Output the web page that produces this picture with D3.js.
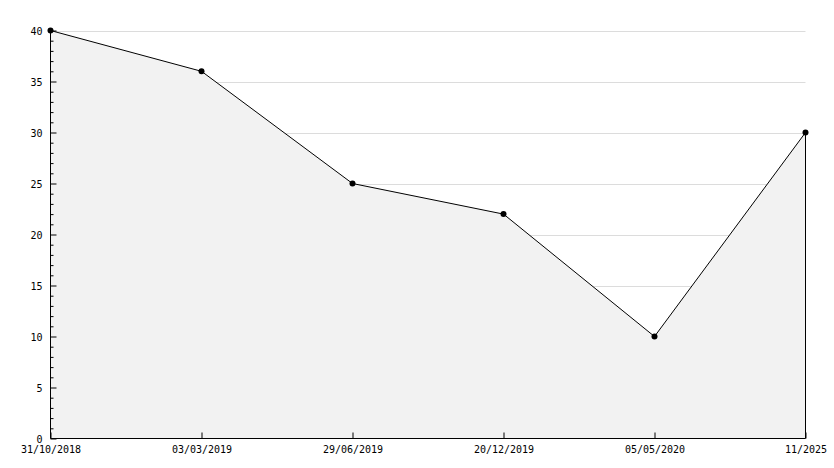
<!DOCTYPE html>
<html>
<head>
<meta charset="utf-8">
<script src="https://cdn.jsdelivr.net/npm/d3@7"></script>
<style>
  body { margin: 0; background: #fff; }
  text { font-family: "DejaVu Sans Mono", monospace; font-size: 10px; fill: #000; }
</style>
</head>
<body>
<svg id="chart" width="834" height="468"></svg>
<script>
'use strict';

const dates = ['31/10/2018', '03/03/2019', '29/06/2019', '20/12/2019', '05/05/2020', '11/2025'];
const values = [40, 36, 25, 22, 10, 30];
const yTicks = [0, 5, 10, 15, 20, 25, 30, 35, 40];

const vis = d3.select('#chart');
const mLeft = 50.5, mRight = 805.5, mTop = 30.5, mBottom = 438.5;

const x = d3.scalePoint().domain(dates).range([mLeft, mRight]);
const y = d3.scaleLinear().domain([0, 40]).range([mBottom, mTop]);

const data = dates.map((d, i) => ({date: d, value: values[i]}));

// grid
vis.append('g')
    .selectAll('line')
    .data(yTicks.slice(1))
    .enter().append('line')
    .attr('x1', mLeft).attr('x2', mRight)
    .attr('y1', d => Math.round(y(d)) + 0.5)
    .attr('y2', d => Math.round(y(d)) + 0.5)
    .attr('stroke', '#dcdcdc');

// area
const area = d3.area()
    .x(d => x(d.date))
    .y0(mBottom)
    .y1(d => y(d.value));
vis.append('path')
    .datum(data)
    .attr('d', area)
    .attr('fill', '#f2f2f2');

// right edge of area
vis.append('line')
    .attr('x1', mRight).attr('x2', mRight)
    .attr('y1', y(values[values.length - 1])).attr('y2', mBottom)
    .attr('stroke', '#000');

// line
vis.append('path')
    .datum(data)
    .attr('d', d3.line().x(d => x(d.date)).y(d => y(d.value)))
    .attr('fill', 'none')
    .attr('stroke', '#000')
    .attr('stroke-width', 1);

// y axis
const yAxis = vis.append('g')
    .attr('transform', `translate(${mLeft},0)`)
    .call(d3.axisRight(y).tickValues(d3.range(0, 41, 1)).tickSize(3).tickFormat(''));
yAxis.select('.domain').remove();
yAxis.selectAll('.tick').filter(d => d % 5 === 0).select('line').attr('x2', 6);

yAxis.selectAll('.tick')
    .filter(d => d % 5 === 0)
    .append('text')
    .attr('x', -8)
    .attr('dy', '0.35em')
    .attr('text-anchor', 'end')
    .text(d => d);

// x axis
const xAxis = vis.append('g')
    .attr('transform', `translate(0,${mBottom})`)
    .call(d3.axisTop(x).tickSize(6).tickFormat(''));
xAxis.select('.domain').remove();
xAxis.selectAll('.tick')
    .append('text')
    .attr('y', 14)
    .attr('text-anchor', 'middle')
    .text(d => d);

vis.append('line')
    .attr('x1', mLeft).attr('x2', mLeft)
    .attr('y1', mTop).attr('y2', mBottom)
    .attr('stroke', '#000');
vis.append('line')
    .attr('x1', mLeft).attr('x2', mRight)
    .attr('y1', mBottom).attr('y2', mBottom)
    .attr('stroke', '#000');

// markers
vis.append('g')
    .selectAll('circle')
    .data(data)
    .enter().append('circle')
    .attr('cx', d => x(d.date))
    .attr('cy', d => y(d.value))
    .attr('r', 3)
    .attr('fill', '#000');
</script>
</body>
</html>
